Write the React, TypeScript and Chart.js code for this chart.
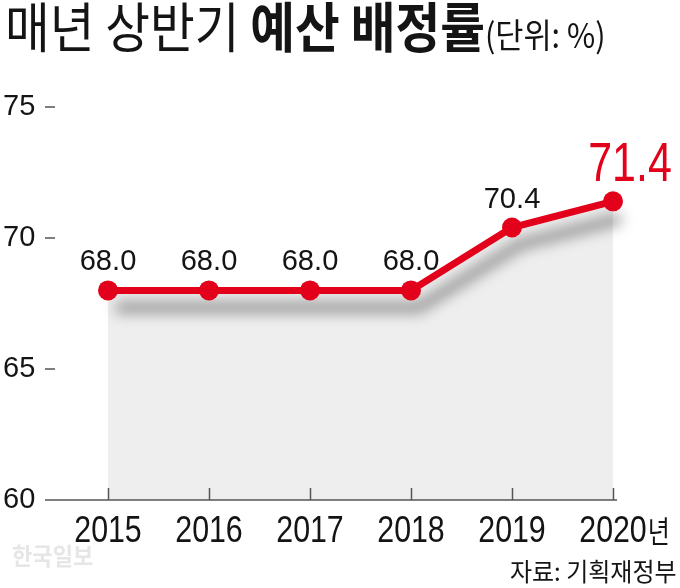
import React, { useEffect, useRef } from "react";
import { Chart, registerables } from "chart.js";

Chart.register(...registerables);

const categories = ["2015", "2016", "2017", "2018", "2019", "2020"];
const values = [68.0, 68.0, 68.0, 68.0, 70.4, 71.4];
const yTicks = [60, 65, 70, 75];
const yearSuffix = "년";
const titleMain = "매년 상반기 ";
const titleBold = "예산 배정률";
const titleUnit = "(단위: %)";
const sourceText = "자료: 기획재정부";
const watermark = "한국일보";

const RED = "#e2001a";
const INK = "#141414";
const SANS = "'Liberation Sans', Arial, sans-serif";
const KR = "'Noto Sans CJK KR', 'Noto Sans', sans-serif";

function drawScaled(ctx: any, text: string, x: number, y: number, sx: number, align: string) {
  ctx.save();
  ctx.translate(x, y);
  ctx.scale(sx, 1);
  ctx.textAlign = align;
  ctx.textBaseline = "alphabetic";
  ctx.fillText(text, 0, 0);
  ctx.restore();
}

const decorPlugin = {
  id: "decor",
  beforeDatasetDraw(chart: any, args: any) {
    if (args.index === 1) {
      const ctx = chart.ctx;
      ctx.save();
      ctx.filter = "blur(7px)";
      ctx.translate(8, 17);
    }
  },
  afterDatasetDraw(chart: any, args: any) {
    if (args.index === 1) chart.ctx.restore();
  },
  afterDatasetsDraw(chart: any) {
    const ctx = chart.ctx;
    const xs = chart.scales.x;
    const ys = chart.scales.y;
    const base = ys.getPixelForValue(yTicks[0]);
    const lastX = xs.getPixelForValue(categories.length - 1);
    ctx.save();
    ctx.strokeStyle = "#555";
    ctx.lineWidth = 1.5;
    ctx.beginPath();
    ctx.moveTo(45, base);
    ctx.lineTo(lastX + 4, base);
    ctx.stroke();
    categories.forEach((_, i) => {
      const x = Math.round(xs.getPixelForValue(i)) + 0.5;
      ctx.beginPath();
      ctx.moveTo(x, base);
      ctx.lineTo(x, base - 12);
      ctx.stroke();
    });
    yTicks.slice(1).forEach((v) => {
      const y = ys.getPixelForValue(v);
      ctx.beginPath();
      ctx.moveTo(45, y);
      ctx.lineTo(55, y);
      ctx.stroke();
    });
    const meta = chart.getDatasetMeta(0);
    meta.data.forEach((pt: any, i: number) => {
      const txt = values[i].toFixed(1);
      if (i === values.length - 1) {
        ctx.font = `55px ${SANS}`;
        ctx.fillStyle = RED;
        drawScaled(ctx, txt, pt.x + 17, pt.y - 20, 0.78, "center");
      } else {
        ctx.font = `30px ${SANS}`;
        ctx.fillStyle = INK;
        drawScaled(ctx, txt, pt.x, pt.y - 20, 0.97, "center");
      }
    });
    ctx.restore();
  },
  afterDraw(chart: any) {
    const ctx = chart.ctx;
    const xs = chart.scales.x;
    ctx.save();
    ctx.fillStyle = INK;
    ctx.font = `37px ${SANS}`;
    const sx = 0.82;
    categories.forEach((c, i) => {
      drawScaled(ctx, c, xs.getPixelForValue(i), 542, sx, "center");
    });
    const lastX = xs.getPixelForValue(categories.length - 1);
    const w = ctx.measureText(categories[categories.length - 1]).width * sx;
    ctx.font = `30px ${KR}`;
    drawScaled(ctx, yearSuffix, lastX + w / 2 + 1, 542, 0.8, "left");
    ctx.restore();
  },
};

export default function App() {
  const ref = useRef<HTMLCanvasElement>(null);
  useEffect(() => {
    document.body.style.margin = "0";
    const chart = new Chart(ref.current as HTMLCanvasElement, {
      type: "line",
      data: {
        labels: categories,
        datasets: [
          {
            data: values,
            borderColor: RED,
            backgroundColor: RED,
            borderWidth: 7,
            pointRadius: 10,
            pointHoverRadius: 10,
            pointBackgroundColor: RED,
            pointBorderWidth: 0,
            tension: 0,
            fill: false,
            clip: false,
            order: 0,
          } as any,
          {
            data: values,
            borderColor: "rgba(0,0,0,0.38)",
            borderWidth: 11,
            pointRadius: 0,
            tension: 0,
            fill: false,
            clip: false,
            order: 1,
          } as any,
          {
            data: values,
            borderWidth: 0,
            borderColor: "rgba(0,0,0,0)",
            backgroundColor: "#eeeeee",
            pointRadius: 0,
            tension: 0,
            fill: "start",
            order: 2,
          } as any,
        ],
      },
      options: {
        animation: false,
        responsive: false,
        devicePixelRatio: 1,
        events: [],
        layout: { padding: { left: 3, right: 67, top: 107, bottom: 0 } },
        plugins: { legend: { display: false }, tooltip: { enabled: false } },
        scales: {
          x: {
            type: "category",
            offset: false,
            grid: { display: false, drawTicks: false },
            border: { display: false },
            ticks: { display: false },
            afterFit: (s: any) => {
              s.height = 88;
            },
          },
          y: {
            type: "linear",
            min: yTicks[0],
            max: yTicks[yTicks.length - 1],
            afterBuildTicks: (s: any) => {
              s.ticks = yTicks.map((v) => ({ value: v }));
            },
            grid: { display: false, drawTicks: false },
            border: { display: false },
            ticks: {
              font: { family: SANS, size: 29 },
              color: INK,
              crossAlign: "far",
              padding: 0,
            },
            afterFit: (s: any) => {
              s.width = 105;
            },
          },
        },
      },
      plugins: [decorPlugin],
    } as any);
    return () => chart.destroy();
  }, []);

  return (
    <div style={{ position: "absolute", left: 0, top: 0, width: 680, height: 588, background: "#fff", overflow: "hidden" }}>
      <canvas ref={ref} width={680} height={588} style={{ position: "absolute", left: 0, top: 0, width: 680, height: 588 }} />
      <div
        style={{
          position: "absolute",
          left: 5,
          top: -4,
          whiteSpace: "nowrap",
          transform: "scaleX(0.9)",
          transformOrigin: "0 0",
          fontFamily: KR,
          color: INK,
          fontSize: 54,
          lineHeight: "58px",
        }}
      >
        <span style={{ fontWeight: 400 }}>{titleMain}</span>
        <span style={{ fontWeight: 700 }}>{titleBold}</span>
        <span style={{ fontSize: 34, fontWeight: 400 }}>{titleUnit}</span>
      </div>
      <div
        style={{
          position: "absolute",
          left: 12,
          top: 540,
          whiteSpace: "nowrap",
          fontFamily: KR,
          fontWeight: 700,
          color: "#e6e6e6",
          fontSize: 24,
          lineHeight: "30px",
          transform: "scaleX(0.92)",
          transformOrigin: "0 0",
        }}
      >
        {watermark}
      </div>
      <div
        style={{
          position: "absolute",
          right: 3,
          top: 555,
          whiteSpace: "nowrap",
          fontFamily: KR,
          color: INK,
          fontSize: 25,
          lineHeight: "30px",
          transform: "scaleX(0.96)",
          transformOrigin: "100% 0",
        }}
      >
        {sourceText}
      </div>
    </div>
  );
}
